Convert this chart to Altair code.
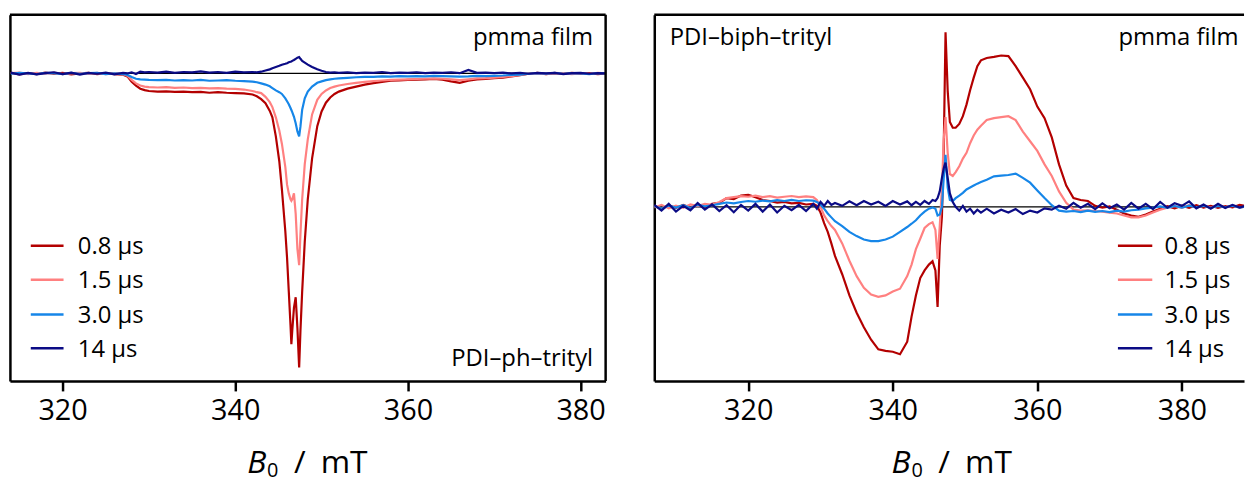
import altair as alt
import pandas as pd

# ---------------- data ----------------
SERIES = ["0.8 μs", "1.5 μs", "3.0 μs", "14 μs"]
COLORS = ["#b30000", "#ff8080", "#1686e8", "#0b0b85"]
TICKS = [320, 340, 360, 380]

# Left panel: PDI-ph-trityl
LEFT_B = [314, 315, 316, 317, 318, 319, 320, 321, 322, 323, 324, 325, 326, 327,
          327.5, 328, 328.5, 329, 329.5,
          330, 331, 332, 333, 334, 335, 336, 337, 338, 339, 340, 341, 342,
          342.5, 343, 343.5, 344, 344.3, 344.7, 345.1, 345.4, 345.8, 346.0, 346.2, 346.4,
          346.5, 346.6, 346.8, 347.0, 347.2, 347.4, 347.55, 347.75, 348.05, 348.4, 348.9, 349.5,
          350, 350.5, 351, 351.5,
          352, 353, 354, 355, 356, 357, 358, 359, 360, 361, 362, 363, 364, 365, 366, 367,
          368, 369, 370, 371, 372, 373, 374, 375, 376, 377, 378, 379, 380, 381, 382, 383]

LEFT_08 = [0.002, -0.003, 0.001, -0.002, 0.003, -0.001, 0.002, -0.003, 0.000, 0.002, -0.002, 0.001, -0.002, -0.004,
           -0.010, -0.028, -0.042, -0.052, -0.057,
           -0.060, -0.062, -0.061, -0.063, -0.062, -0.064, -0.063, -0.066, -0.064, -0.066, -0.067, -0.068, -0.072,
           -0.078, -0.088, -0.102, -0.128, -0.150, -0.215, -0.300, -0.395, -0.540, -0.630, -0.745, -0.860,
           -0.925, -0.880, -0.800, -0.765, -0.870, -1.005, -0.880, -0.745, -0.575, -0.430, -0.290, -0.180,
           -0.130, -0.100, -0.082, -0.070,
           -0.062, -0.052, -0.045, -0.038, -0.033, -0.029, -0.025, -0.024, -0.022, -0.021, -0.020, -0.019, -0.021, -0.027, -0.032, -0.025,
           -0.020, -0.019, -0.016, -0.014, -0.010, -0.006, -0.001, 0.002, -0.002, 0.001, -0.001, 0.002, -0.001, 0.001, -0.002, 0.000]

LEFT_15 = [0.001, 0.003, -0.002, 0.002, -0.001, 0.003, -0.002, 0.001, 0.002, -0.001, 0.002, -0.002, 0.001, -0.003,
           -0.008, -0.022, -0.034, -0.041, -0.045,
           -0.047, -0.048, -0.047, -0.049, -0.048, -0.050, -0.049, -0.051, -0.050, -0.052, -0.053, -0.055, -0.060,
           -0.064, -0.067, -0.080, -0.098, -0.115, -0.150, -0.195, -0.240, -0.320, -0.380, -0.410, -0.430,
           -0.435, -0.430, -0.410, -0.480, -0.600, -0.655, -0.550, -0.430, -0.310, -0.225, -0.140, -0.090,
           -0.070, -0.058, -0.050, -0.045,
           -0.041, -0.036, -0.032, -0.029, -0.026, -0.024, -0.022, -0.021, -0.020, -0.019, -0.018, -0.017, -0.018, -0.020, -0.023, -0.020,
           -0.017, -0.016, -0.014, -0.012, -0.009, -0.005, -0.001, 0.001, -0.002, 0.002, 0.000, -0.002, 0.001, -0.001, 0.002, 0.000]

LEFT_30 = [-0.001, 0.002, 0.000, -0.002, 0.002, 0.001, -0.002, 0.002, -0.001, 0.001, 0.002, -0.002, 0.000, -0.002,
           -0.005, -0.012, -0.018, -0.020, -0.021,
           -0.022, -0.023, -0.022, -0.024, -0.023, -0.024, -0.022, -0.025, -0.024, -0.023, -0.025, -0.026, -0.028,
           -0.030, -0.034, -0.038, -0.044, -0.050, -0.058, -0.064, -0.070, -0.085, -0.095, -0.105, -0.118,
           -0.125, -0.132, -0.148, -0.170, -0.198, -0.215, -0.182, -0.124, -0.085, -0.062, -0.045, -0.032,
           -0.027, -0.023, -0.020, -0.018,
           -0.017, -0.015, -0.013, -0.012, -0.012, -0.010, -0.011, -0.009, -0.010, -0.009, -0.010, -0.008, -0.009, -0.010, -0.011, -0.010,
           -0.008, -0.009, -0.008, -0.007, -0.005, -0.004, -0.001, 0.001, -0.001, 0.002, -0.001, 0.001, 0.000, -0.002, 0.001, 0.000]

LEFT_14 = [0.003, -0.004, 0.002, -0.003, 0.001, 0.004, -0.002, 0.003, -0.004, 0.002, -0.001, 0.003, -0.003, 0.002,
           0.000, 0.004, -0.002, 0.006, 0.004,
           0.005, 0.003, 0.006, 0.002, 0.005, 0.004, 0.007, 0.003, 0.005, 0.002, 0.006, 0.004, 0.005,
           0.004, 0.006, 0.010, 0.014, 0.018, 0.022, 0.026, 0.030, 0.033, 0.035, 0.038, 0.040,
           0.041, 0.043, 0.046, 0.050, 0.054, 0.056, 0.050, 0.043, 0.037, 0.030, 0.022, 0.014,
           0.009, 0.005, 0.003, 0.004,
           0.002, 0.004, 0.001, 0.003, 0.002, 0.005, 0.001, 0.003, 0.002, 0.004, 0.001, 0.003, 0.002, 0.004, 0.001, 0.012,
           0.002, 0.003, 0.001, 0.003, 0.000, 0.002, -0.001, 0.002, 0.000, 0.002, -0.002, 0.001, 0.002, -0.001, 0.001, 0.000]

# Right panel: PDI-biph-trityl
RIGHT_B = [307, 308, 309, 310, 311, 312, 313, 314, 315, 316, 317, 318, 319, 320, 321, 322, 323, 324, 325, 326, 327, 328,
           329, 329.5, 330, 330.5, 331, 331.5, 332,
           333, 334, 335, 336, 337, 338, 339, 340, 341, 342,
           342.6, 343.2, 343.8, 344.4, 345.0, 345.5, 345.9, 346.2, 346.5, 346.8, 347.05, 347.3, 347.6, 347.9,
           348.3, 348.7, 349.2, 349.7, 350.2, 350.7, 351.2, 351.7, 352.2,
           353, 354, 355, 356, 357, 358, 359, 360, 361, 362, 363, 364, 365, 366, 367, 368, 369, 370, 371,
           372, 373, 374, 375, 376, 377, 378, 379, 380, 381, 382, 383, 384, 385, 386, 387, 388, 389]

RIGHT_08 = [0.005, -0.012, 0.008, -0.006, 0.010, -0.004, 0.012, -0.008, 0.015, 0.020, 0.045, 0.040, 0.058, 0.062, 0.050, 0.035, 0.030, 0.022, 0.025, 0.018, 0.020, 0.012,
            0.015, 0.005, -0.030, -0.085, -0.130, -0.190, -0.255,
            -0.350, -0.460, -0.550, -0.625, -0.690, -0.740, -0.748, -0.752, -0.765, -0.700,
            -0.570, -0.460, -0.370, -0.330, -0.300, -0.283, -0.330, -0.520, -0.200, -0.050, 0.300, 0.905, 0.600, 0.440,
            0.410, 0.410, 0.430, 0.470, 0.530, 0.605, 0.670, 0.730, 0.760,
            0.772, 0.778, 0.785, 0.782, 0.730, 0.670, 0.610, 0.520, 0.460, 0.360, 0.220, 0.110, 0.045, 0.035, 0.030, 0.005, -0.005, 0.002, -0.015,
            -0.035, -0.045, -0.052, -0.040, -0.025, -0.010, 0.003, -0.008, 0.006, -0.005, 0.008, -0.004, 0.005, -0.006, 0.004, -0.003, 0.010, 0.002]

RIGHT_15 = [-0.004, 0.010, -0.008, 0.006, -0.005, 0.012, 0.004, 0.015, 0.010, 0.025, 0.045, 0.050, 0.055, 0.052, 0.058, 0.050, 0.055, 0.048, 0.052, 0.056, 0.050, 0.054,
            0.050, 0.035, 0.000, -0.045, -0.075, -0.100, -0.120,
            -0.190, -0.280, -0.360, -0.420, -0.455, -0.467, -0.460, -0.440, -0.425, -0.360,
            -0.300, -0.220, -0.166, -0.110, -0.090, -0.080, -0.120, -0.270, -0.100, 0.100, 0.350, 0.465, 0.280, 0.170,
            0.160, 0.180, 0.210, 0.250, 0.280, 0.330, 0.370, 0.400, 0.420,
            0.450, 0.460, 0.465, 0.470, 0.450, 0.390, 0.340, 0.290, 0.220, 0.160, 0.080, 0.020, -0.015, -0.020, -0.018, -0.022, -0.025, -0.030, -0.035,
            -0.045, -0.055, -0.055, -0.045, -0.030, -0.015, -0.005, 0.004, -0.006, 0.008, -0.004, 0.006, -0.005, 0.007, -0.002, 0.005, -0.004, 0.003]

RIGHT_30 = [0.004, -0.010, 0.006, -0.004, 0.008, -0.006, 0.010, 0.002, 0.008, 0.015, 0.022, 0.018, 0.025, 0.030, 0.026, 0.032, 0.028, 0.034, 0.030, 0.036, 0.030, 0.034,
            0.032, 0.025, 0.012, -0.010, -0.035, -0.055, -0.075,
            -0.100, -0.130, -0.152, -0.170, -0.178, -0.178, -0.170, -0.155, -0.130, -0.105,
            -0.088, -0.070, -0.045, -0.025, -0.010, -0.003, -0.010, -0.045, -0.040, 0.000, 0.150, 0.270, 0.100, 0.035,
            0.030, 0.045, 0.058, 0.072, 0.090, 0.100, 0.110, 0.120, 0.128,
            0.140, 0.158, 0.162, 0.165, 0.172, 0.150, 0.125, 0.085, 0.045, 0.008, -0.020, -0.025, -0.022, -0.028, -0.020, -0.026, -0.022, -0.028, -0.020,
            -0.025, -0.018, -0.015, -0.008, -0.004, 0.002, -0.006, 0.004, -0.005, 0.006, -0.003, 0.005, -0.006, 0.004, -0.003, 0.006, -0.004, 0.002]

RIGHT_14 = [0.010, -0.020, 0.015, -0.025, 0.005, -0.018, 0.020, -0.015, 0.012, -0.022, 0.008, -0.028, 0.010, -0.020, 0.015, -0.025, 0.012, -0.030, 0.005, -0.018, 0.010, -0.022,
            0.015, -0.010, 0.025, 0.005, 0.030, 0.010, 0.020,
            0.005, 0.028, 0.008, 0.030, 0.012, 0.026, 0.004, 0.030, 0.012, 0.028,
            0.008, 0.025, 0.010, 0.030, 0.015, 0.035, 0.030, 0.045, 0.080, 0.150, 0.200, 0.229, 0.150, 0.070,
            0.025, 0.000, -0.020, 0.005, -0.025, -0.010, -0.035, -0.015, -0.030,
            -0.010, -0.035, -0.015, -0.030, -0.012, -0.038, -0.020, -0.030, -0.008, -0.015, 0.005, -0.010, 0.020, -0.005, 0.015, -0.012, 0.018, -0.008, 0.012,
            -0.015, 0.020, -0.010, 0.015, -0.012, 0.025, -0.005, 0.018, 0.005, 0.028, -0.008, 0.012, -0.010, 0.015, -0.006, 0.010, -0.004, 0.008]

# ---------------- layout / style ----------------
FONT = "Open Sans"
H = 369
W_LEFT, W_RIGHT = 600, 594
LEFT_XDOM, LEFT_YDOM = [313.9, 382.9], [-1.051, 0.201]
RIGHT_XDOM, RIGHT_YDOM = [307.0, 388.6], [-0.904, 0.997]
LEGEND_ROWS = [232.7, 267.0, 302.0, 336.0]

ONE = pd.DataFrame({"k": [0]})


def text_layer(txt, x, y, size=24, align="left", style="normal"):
    return alt.Chart(ONE).mark_text(
        text=txt, font=FONT, fontSize=size, align=align, baseline="alphabetic",
        fontStyle=style, color="black"
    ).encode(x=alt.value(x), y=alt.value(y))


def panel(bgrid, series_vals, xdom, ydom, width, annotations, leg_x0, leg_x1, leg_tx, right_border):
    xenc = alt.X("B:Q", scale=alt.Scale(domain=xdom, zero=False, nice=False),
                 axis=alt.Axis(values=TICKS, title=None, grid=False, format="d",
                               labelFont=FONT, labelFontSize=29, labelColor="black",
                               tickColor="black", tickWidth=2.5, tickSize=10,
                               domainColor="black", domainWidth=2.5, labelPadding=6))
    yenc = alt.Y("S:Q", scale=alt.Scale(domain=ydom, zero=False, nice=False),
                 axis=alt.Axis(labels=False, ticks=False, title=None, grid=False,
                               domainColor="black", domainWidth=2.5))
    layers = []
    zero = alt.Chart(pd.DataFrame({"B": [xdom[0], xdom[1]], "S": [0, 0]})).mark_line(
        color="black", strokeWidth=1.3).encode(x=xenc, y=yenc)
    layers.append(zero)
    for name, col, vals in zip(SERIES, COLORS, series_vals):
        df = pd.DataFrame({"B": bgrid, "S": vals})
        layers.append(alt.Chart(df).mark_line(color=col, strokeWidth=2.2, clip=True)
                      .encode(x=xenc, y=yenc))
    # frame: top (and right) borders
    layers.append(alt.Chart(ONE).mark_rule(color="black", strokeWidth=2.5)
                  .encode(x=alt.value(0), x2=alt.value(width), y=alt.value(0)))
    if right_border:
        layers.append(alt.Chart(ONE).mark_rule(color="black", strokeWidth=2.5)
                      .encode(x=alt.value(width), y=alt.value(0), y2=alt.value(H)))
    # legend
    for name, col, yrow in zip(SERIES, COLORS, LEGEND_ROWS):
        layers.append(alt.Chart(ONE).mark_rule(color=col, strokeWidth=2.5)
                      .encode(x=alt.value(leg_x0), x2=alt.value(leg_x1), y=alt.value(yrow)))
        layers.append(text_layer(name, leg_tx, yrow + 8.5, size=24))
    # annotations
    for txt, x, y, align in annotations:
        layers.append(text_layer(txt, x, y, size=24, align=align))
    # x-axis title  B0 / mT
    layers.append(text_layer("B", 239, 462, size=32, style="italic"))
    layers.append(text_layer("0", 259, 466, size=20))
    layers.append(text_layer("/", 286, 462, size=32))
    layers.append(text_layer("mT", 313, 462, size=32))
    return alt.layer(*layers).properties(width=width, height=H)


left = panel(LEFT_B, [LEFT_08, LEFT_15, LEFT_30, LEFT_14], LEFT_XDOM, LEFT_YDOM, W_LEFT,
             [("pmma film", 587.4, 31, "right"), ("PDI–ph–trityl", 587.4, 353.7, "right")],
             21, 54, 68.4, True)
right = panel(RIGHT_B, [RIGHT_08, RIGHT_15, RIGHT_30, RIGHT_14], RIGHT_XDOM, RIGHT_YDOM, W_RIGHT,
              [("PDI–biph–trityl", 15.5, 31, "left"), ("pmma film", 588.5, 31, "right")],
              467, 501.6, 514, False)

chart = alt.hconcat(left, right, spacing=43).configure_view(stroke=None).properties(
    padding={"left": 7, "top": 11, "right": 0, "bottom": 0},
    background="white",
)

chart.save("out.html", embed_options={"renderer": "svg", "actions": False})
